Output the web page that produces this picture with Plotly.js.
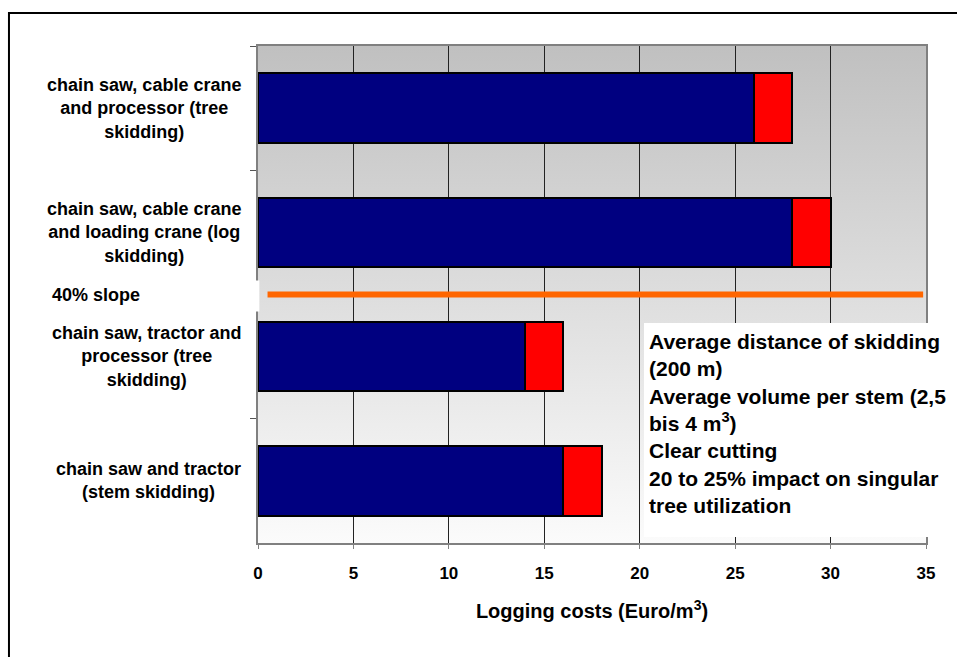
<!DOCTYPE html>
<html>
<head>
<meta charset="utf-8">
<script src="https://cdn.plot.ly/plotly-3.0.1.min.js"></script>
<style>html,body{margin:0;padding:0;background:#fff;}#chart{width:957px;height:657px;}</style>
</head>
<body>
<div id="chart"></div>
<script>
// ---- data ----
var categories = [
  "chain saw, cable crane<br>and processor (tree<br>skidding)",
  "chain saw, cable crane<br>and loading crane (log<br>skidding)",
  "chain saw, tractor and<br>processor (tree<br>skidding)",
  "chain saw and tractor<br>(stem skidding)"
];
var baseCosts = [26, 28, 14, 16];
var extraCosts = [2, 2, 2, 2];
var xTicks = [0, 5, 10, 15, 20, 25, 30, 35];
var slopeLabel = "40% slope";
var noteLines = [
  "Average distance of skidding",
  "(200 m)",
  "Average volume per stem (2,5",
  "bis 4 m<sup>3</sup>)",
  "Clear cutting",
  "20 to 25% impact on singular",
  "tree utilization"
];
var xTitle = "Logging costs (Euro/m<sup>3</sup>)";

var FONT = "Liberation Sans, Arial, sans-serif";

var traces = [
  {type: "bar", orientation: "h", y: categories, x: baseCosts, name: "base",
   marker: {color: "#000080", line: {color: "#000", width: 2}}, hoverinfo: "x"},
  {type: "bar", orientation: "h", y: categories, x: extraCosts, name: "extra",
   marker: {color: "#ff0000", line: {color: "#000", width: 2}}, hoverinfo: "x"}
];

var gradSvg = '<svg xmlns="http://www.w3.org/2000/svg" width="10" height="100" viewBox="0 0 10 100" preserveAspectRatio="none">' +
  '<defs><linearGradient id="g" x1="0" y1="0" x2="0" y2="1"><stop offset="0" stop-color="#c0c0c0"/><stop offset="1" stop-color="#fbfbfb"/></linearGradient></defs>' +
  '<rect x="0" y="0" width="10" height="100" fill="url(#g)"/></svg>';

var annotations = categories.map(function (c) {
  return {xref: "paper", yref: "y", x: -0.0225, y: c, xanchor: "right", yanchor: "middle",
    align: "center", showarrow: false, text: c,
    font: {family: FONT, size: 18, color: "#000", weight: "bold"}};
});
annotations.push({xref: "paper", yref: "y", x: -0.311, y: 1.5, xanchor: "left", yanchor: "middle",
  showarrow: false, text: slopeLabel, font: {family: FONT, size: 18, color: "#000", weight: "bold"}});
annotations.push({xref: "paper", yref: "paper", x: 0.5818, y: 0.4326, xanchor: "left", yanchor: "top",
  align: "left", showarrow: false, text: noteLines.join("<br>"),
  font: {family: FONT, size: 21, color: "#000", weight: "bold"}});

var shapes = [
  // white patch for slope band hiding axis
  {type: "rect", xref: "paper", yref: "y", x0: -0.35, x1: 0.002, y0: 1.387, y1: 1.637,
   fillcolor: "#fff", line: {width: 0}, layer: "above"},
  // slope line
  {type: "line", xref: "x", yref: "y", x0: 0.5, x1: 34.85, y0: 1.5, y1: 1.5,
   line: {color: "#ff6600", width: 6}, layer: "above"},
  // note box background
  {type: "rect", xref: "paper", yref: "paper", x0: 0.5778, x1: 1.2, y0: 0.0121, y1: 0.4426,
   fillcolor: "#fff", line: {width: 0}, layer: "above"},
  // outer border
  {type: "rect", xref: "paper", yref: "paper", x0: -0.3728, x1: 1.2, y0: -0.5, y1: 1.0664,
   fillcolor: "rgba(0,0,0,0)", line: {color: "#000", width: 2}, layer: "above"}
];

var layout = {
  width: 957, height: 657,
  margin: {l: 258, r: 31, t: 46, b: 114, pad: 0},
  paper_bgcolor: "#fff",
  plot_bgcolor: "rgba(0,0,0,0)",
  showlegend: false,
  barmode: "stack",
  bargap: 0.44,
  font: {family: FONT, color: "#000"},
  images: [{source: "data:image/svg+xml;charset=utf-8," + encodeURIComponent(gradSvg),
    xref: "paper", yref: "paper", x: 0, y: 1, sizex: 1, sizey: 1,
    xanchor: "left", yanchor: "top", sizing: "stretch", layer: "below"}],
  xaxis: {
    range: [0, 35], tickvals: xTicks, ticktext: xTicks.map(String),
    showgrid: true, gridcolor: "#222", gridwidth: 1, zeroline: false,
    showline: true, linecolor: "#808080", linewidth: 2, mirror: true,
    ticks: "outside", ticklen: 4, tickcolor: "#808080", tickwidth: 1,
    ticklabelstandoff: 10,
    tickfont: {family: FONT, size: 17, color: "#000", weight: "bold"},
    title: {text: xTitle, font: {family: FONT, size: 20, color: "#000", weight: "bold"}, standoff: 22}
  },
  yaxis: {
    type: "category", range: [3.5, -0.5], tickson: "boundaries",
    showticklabels: false, showgrid: false, zeroline: false,
    showline: true, linecolor: "#808080", linewidth: 2, mirror: true,
    ticks: "outside", ticklen: 6, tickcolor: "#555", tickwidth: 1
  },
  annotations: annotations,
  shapes: shapes
};

Plotly.newPlot("chart", traces, layout, {displayModeBar: false, staticPlot: true});
</script>
</body>
</html>
